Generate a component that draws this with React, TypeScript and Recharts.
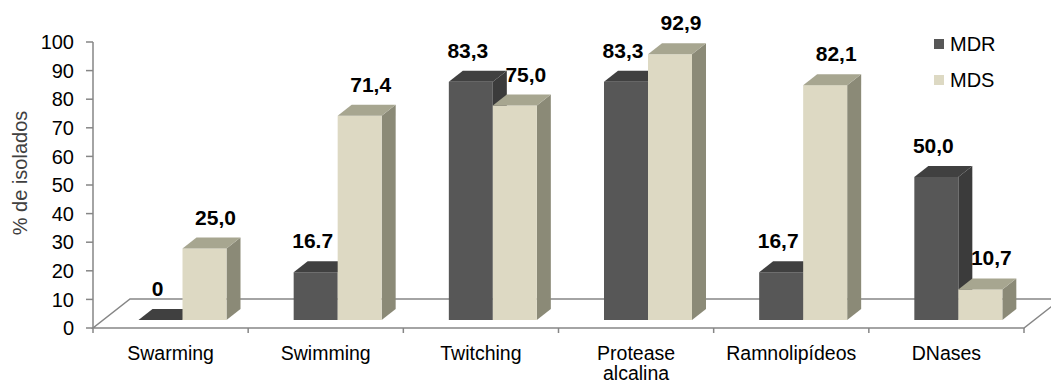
import { BarChart, Bar, XAxis, YAxis, CartesianGrid, LabelList } from "recharts";

const categories = ["Swarming", "Swimming", "Twitching", "Protease alcalina", "Ramnolipídeos", "DNases"];
const mdrValues = [0, 16.7, 83.3, 83.3, 16.7, 50.0];
const mdsValues = [25.0, 71.4, 75.0, 92.9, 82.1, 10.7];
const mdrLabels = ["0", "16.7", "83,3", "83,3", "16,7", "50,0"];
const mdsLabels = ["25,0", "71,4", "75,0", "92,9", "82,1", "10,7"];
const yTicks = [0, 10, 20, 30, 40, 50, 60, 70, 80, 90, 100];

const data = categories.map((name, i) => ({
  name,
  MDR: mdrValues[i],
  MDS: mdsValues[i],
  mdrLabel: mdrLabels[i],
  mdsLabel: mdsLabels[i],
}));

const FONT = "Arial, 'Liberation Sans', sans-serif";
const AXIS_GREY = "#868686";

// 3D look: bars sit in the middle of the floor's depth
const SHIFT_X = 12;
const SHIFT_Y = 8;
const DEPTH_X = 14;
const DEPTH_Y = 11;
const FLOOR_DX = 37;
const FLOOR_DY = 29;

const MDR_COLORS = { front: "#575757", top: "#404040", side: "#3b3b3b" };
const MDS_COLORS = { front: "#ddd9c3", top: "#a7a690", side: "#8b8a77" };

const Bar3D = (props: any) => {
  const { x, y, width, height, colors } = props;
  if (x == null || y == null) return null;
  const fx = x + SHIFT_X;
  const fy = y - SHIFT_Y;
  const h = Math.max(height, 0);
  const top = `${fx},${fy} ${fx + width},${fy} ${fx + width + DEPTH_X},${fy - DEPTH_Y} ${fx + DEPTH_X},${fy - DEPTH_Y}`;
  const side = `${fx + width},${fy} ${fx + width + DEPTH_X},${fy - DEPTH_Y} ${fx + width + DEPTH_X},${fy + h - DEPTH_Y} ${fx + width},${fy + h}`;
  return (
    <g>
      <polygon points={side} fill={colors.side} />
      <rect x={fx} y={fy} width={width} height={h} fill={colors.front} />
      <polygon points={top} fill={colors.top} />
    </g>
  );
};

// labels sit above the bar top; the lighter series leans a bit to the right
const ValueLabel = (props: any) => {
  const { x, y, width, value, dx = 0 } = props;
  return (
    <text
      x={x + SHIFT_X + width / 2 + dx}
      y={y - SHIFT_Y - 24}
      textAnchor="middle"
      fontFamily={FONT}
      fontWeight="bold"
      fontSize={21}
      fill="#000"
    >
      {value}
    </text>
  );
};

const Floor = (props: any) => {
  const { x1, x2, y1, index } = props;
  if (index !== 0) return <g key={props.key} />;
  const pts = `${x1},${y1} ${x2},${y1} ${x2 + FLOOR_DX},${y1 - FLOOR_DY} ${x1 + FLOOR_DX},${y1 - FLOOR_DY}`;
  return <polygon key={props.key} points={pts} fill="none" stroke={AXIS_GREY} strokeWidth={1.5} />;
};

const CategoryTick = (props: any) => {
  const { x, y, payload, index, visibleTicksCount } = props;
  const half = payload?.offset || 155.2 / 2;
  const lines = String(payload.value).split(" ");
  return (
    <g>
      <line x1={x - half} y1={y} x2={x - half} y2={y + 5} stroke={AXIS_GREY} strokeWidth={1.5} />
      {index === visibleTicksCount - 1 && (
        <line x1={x + half} y1={y} x2={x + half} y2={y + 5} stroke={AXIS_GREY} strokeWidth={1.5} />
      )}
      {lines.map((l, i) => (
        <text key={i} x={x} y={y + 32 + i * 20} textAnchor="middle" fontFamily={FONT} fontSize={19.5} fill="#000">
          {l}
        </text>
      ))}
    </g>
  );
};

const YTitle = (props: any) => {
  const { viewBox } = props;
  const cy = viewBox.y + viewBox.height / 2 - 12;
  return (
    <text
      x={20}
      y={cy}
      transform={`rotate(-90, 20, ${cy})`}
      textAnchor="middle"
      dominantBaseline="central"
      fontFamily={FONT}
      fontSize={20}
      fill="#404040"
    >
      % de isolados
    </text>
  );
};

const legendItems = [
  { name: "MDR", color: MDR_COLORS.front },
  { name: "MDS", color: MDS_COLORS.front },
];

export default function App() {
  return (
    <div style={{ position: "absolute", left: 0, top: 0, width: 1051, height: 385, background: "#fff", fontFamily: FONT }}>
      <BarChart
        width={1051}
        height={385}
        data={data}
        margin={{ top: 42, right: 27, bottom: 0, left: 0 }}
        barCategoryGap={33.5}
        barGap={0}
      >
        <CartesianGrid yAxisId="left" vertical={false} horizontalValues={[0]} horizontal={(p: any) => <Floor {...p} />} />
        <XAxis
          dataKey="name"
          height={57}
          interval={0}
          axisLine={false}
          tickLine={false}
          tickSize={0}
          tickMargin={0}
          tick={<CategoryTick />}
        />
        <YAxis
          yAxisId="left"
          width={93}
          domain={[0, 100]}
          ticks={yTicks}
          interval={0}
          axisLine={{ stroke: AXIS_GREY, strokeWidth: 1.5 }}
          tickLine={{ stroke: AXIS_GREY, strokeWidth: 1.5 }}
          tickSize={7}
          tickMargin={12}
          tick={{ fill: "#000", fontSize: 20, fontFamily: FONT }}
          label={<YTitle />}
        />
        <Bar yAxisId="left" dataKey="MDR" isAnimationActive={false} shape={(p: any) => <Bar3D {...p} colors={MDR_COLORS} />}>
          <LabelList dataKey="mdrLabel" content={<ValueLabel dx={-3} />} />
        </Bar>
        <Bar yAxisId="left" dataKey="MDS" isAnimationActive={false} shape={(p: any) => <Bar3D {...p} colors={MDS_COLORS} />}>
          <LabelList dataKey="mdsLabel" content={<ValueLabel dx={11} />} />
        </Bar>
      </BarChart>
      <div style={{ position: "absolute", left: 934, top: 31 }}>
        {legendItems.map((it) => (
          <div key={it.name} style={{ display: "flex", alignItems: "center", height: 26, marginBottom: 10 }}>
            <span style={{ width: 10, height: 10, background: it.color, display: "inline-block", marginRight: 6 }} />
            <span style={{ fontSize: 20, color: "#000" }}>{it.name}</span>
          </div>
        ))}
      </div>
    </div>
  );
}
